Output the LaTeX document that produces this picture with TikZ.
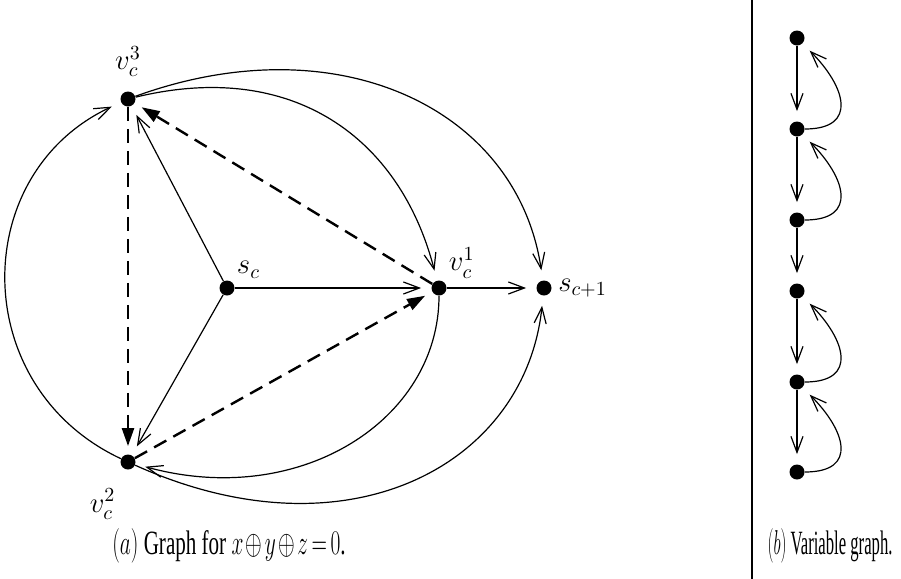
\documentclass[tikz,border=0pt]{standalone}
\usepackage{fontspec}
\usepackage{graphicx}
\setmainfont{Liberation Serif}
\usetikzlibrary{arrows.meta}

\begin{document}
\begin{tikzpicture}[
  x=0.5pt,y=-0.5pt,
  dot/.style={circle,fill=black,inner sep=0pt,minimum size=7.5pt},
  every label/.append style={font=\Large,inner sep=2pt},
  arrow/.style={-{Straight Barb[length=8pt,width=6pt]},line width=0.6pt,shorten >=5pt},
  dasharrow/.style={-{Triangle[length=9pt,width=6pt]},line width=1.2pt,
                    dash pattern=on 7pt off 4pt,shorten >=4pt},
  captext/.style={font=\fontsize{17}{20}\selectfont}
]
\useasboundingbox (0,0) rectangle (901,579);
% (a) clause graph
\node[dot,label={[label distance=5pt]90:$v_c^3$}] (v3) at (128,99) {};
\node[dot,label={[label distance=8pt]250:$v_c^2$}] (v2) at (128,462) {};
\node[dot,label={[label distance=0pt]45:$s_c$}] (sc) at (227,288) {};
\node[dot,label={[label distance=0pt]45:$v_c^1$}] (v1) at (439,288) {};
\node[dot,label={[label distance=1pt]0:$s_{c+1}$}] (s1) at (544,288) {};
\draw[arrow] (sc)--(v3); \draw[arrow] (sc)--(v2); \draw[arrow] (sc)--(v1);
\draw[arrow] (v1)--(s1);
\draw[dasharrow] (v3)--(v2); \draw[dasharrow] (v1)--(v3); \draw[dasharrow] (v2)--(v1);
\draw[arrow] (v2) .. controls +(-160,-75) and +(-160,75) .. (v3);
\draw[arrow] (v3) .. controls +(165,-40) and +(-39,-150) .. (v1);
\draw[arrow] (v3) .. controls +(209,-76) and +(-27,-180) .. (s1);
\draw[arrow] (v1) .. controls +(0,132) and +(172,47) .. (v2);
\draw[arrow] (v2) .. controls +(220,99) and +(-19,177) .. (s1);
\node[captext] (capa) at (229,546)
  {\scalebox{0.62}[1]{$(a)$ Graph for {\medmuskip=2mu\thickmuskip=3mu$x\oplus y\oplus z=0$}.}};
% separator
\draw[line width=1pt] (752,0) -- (752,579);
% (b) variable graph
\foreach \i/\y in {1/38,2/129,3/220,4/291,5/382,6/472}
  \node[dot] (w\i) at (797,\y) {};
\foreach \i/\j in {1/2,2/3,3/4,4/5,5/6}
  \draw[arrow] (w\i)--(w\j);
\foreach \i/\j in {2/1,3/2,5/4,6/5}
  \draw[arrow] (w\i) .. controls +(62,0) and +(48,48) .. (w\j);
\node[captext] (capb) at (830,546) {\scalebox{0.49}[1]{$(b)$ Variable graph.}};
\end{tikzpicture}
\end{document}
